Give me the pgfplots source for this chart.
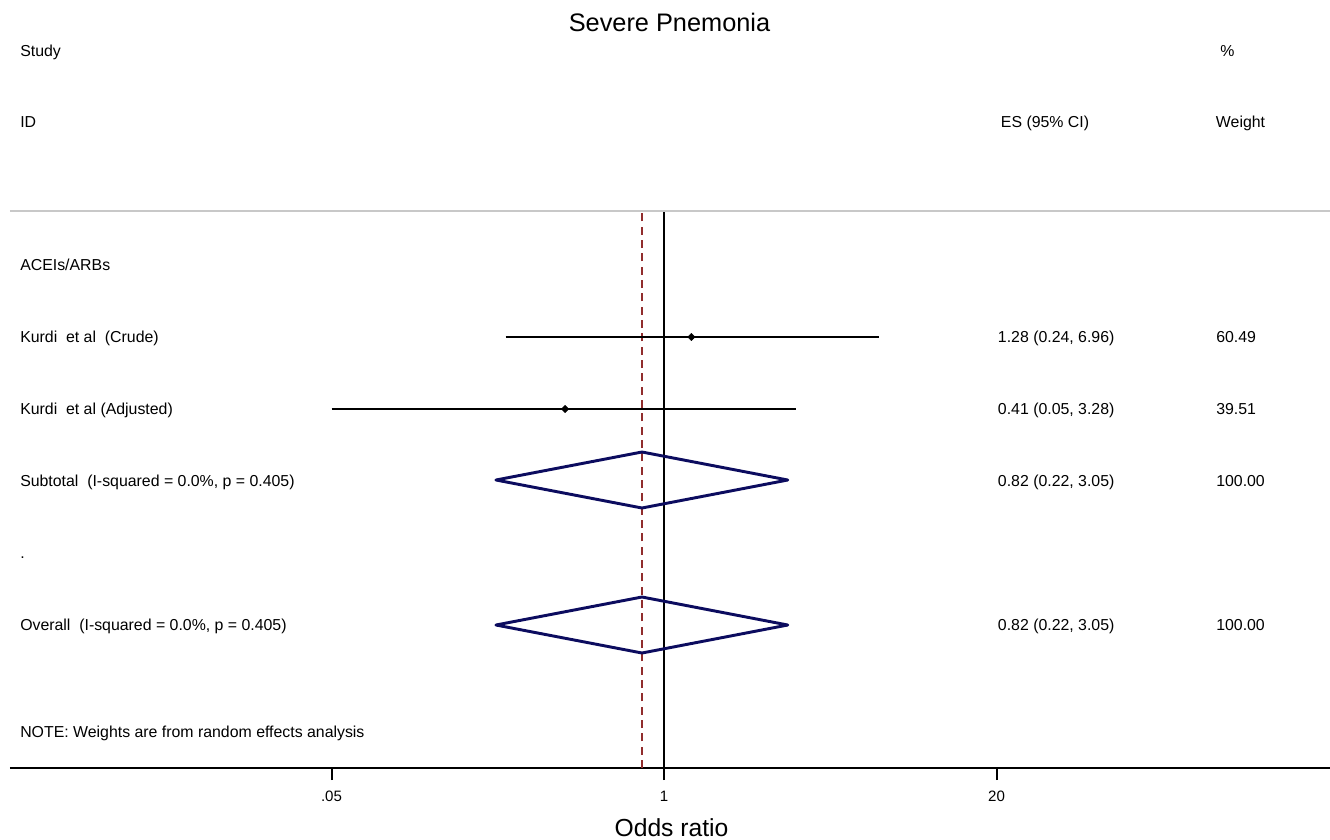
\documentclass[border=0pt]{standalone}
\usepackage{pgfplots}
\pgfplotsset{compat=1.18}
\usepackage{fontspec}
\setmainfont{Liberation Sans}
\definecolor{navyd}{RGB}{12,12,95}
\definecolor{dashred}{RGB}{145,45,45}
\definecolor{sepgray}{RGB}{200,200,200}
\newcommand{\bodyfont}{\fontsize{11.9}{14}\selectfont}
\begin{document}
\begin{tikzpicture}
\begin{axis}[
  at={(7.5pt,-576pt)}, anchor=south west,
  scale only axis, width=990pt, height=417pt,
  xmode=log, xmin=0.00276, xmax=403.6, ymin=-768, ymax=-212,
  axis y line=none, axis x line*=bottom,
  x axis line style={-, line width=1.5pt, black},
  xtick={0.05,1,20}, xticklabels={\textrm{.05},\textrm{1},\textrm{20}},
  minor xtick={},
  xtick align=outside, major tick length=9pt,
  xtick style={line width=1.5pt, black},
  xticklabel style={font=\fontsize{11.3}{13}\selectfont, inner sep=0pt, yshift=-8pt},
  clip=false,
]
% separator
\addplot[sepgray, line width=1.5pt] coordinates {(0.00276,-211) (403.6,-211)};
% reference lines
\addplot[black, line width=1.3pt] coordinates {(1,-768) (1,-212)};
\addplot[dashred, line width=1.3pt, dash pattern=on 6pt off 4pt] coordinates {(0.82,-768) (0.82,-212)};
% study CIs
\addplot[black, line width=1.4pt] coordinates {(0.24,-337) (6.96,-337)};
\addplot[black, line width=1.4pt] coordinates {(0.05,-409) (3.28,-409)};
\addplot[only marks, mark=square*, mark size=1.9pt, mark options={rotate=45, fill=black, draw=black}] coordinates {(1.28,-337) (0.41,-409)};
% pooled diamonds
\addplot[navyd, line width=2.2pt, line join=round] coordinates {(0.22,-480) (0.82,-452) (3.05,-480) (0.82,-508) (0.22,-480) (0.82,-452)};
\addplot[navyd, line width=2.2pt, line join=round] coordinates {(0.22,-625) (0.82,-597) (3.05,-625) (0.82,-653) (0.22,-625) (0.82,-597)};
\end{axis}
\begin{scope}[x=0.75pt, y=-0.75pt, every node/.style={inner sep=0pt, font=\bodyfont, anchor=base west}]
\node[anchor=base, font=\fontsize{19}{22}\selectfont] at (669.5,31.5) {Severe Pnemonia};
\node at (20,56) {Study};
\node at (1220,56) {\%};
\node at (20,127.7) {ID};
\node at (1000.7,127.7) {ES (95\% CI)};
\node at (1215.7,127.7) {Weight};
\node at (20,270.5) {ACEIs/ARBs};
\node at (20,342.3) {Kurdi\ \ et al\ \ (Crude)};
\node at (997.7,342.3) {1.28 (0.24, 6.96)};
\node at (1216,342.3) {60.49};
\node at (20,414.5) {Kurdi\ \ et al (Adjusted)};
\node at (997.7,414.5) {0.41 (0.05, 3.28)};
\node at (1216,414.5) {39.51};
\node at (20,486) {Subtotal\ \ (I-squared = 0.0\%, p = 0.405)};
\node at (997.7,486) {0.82 (0.22, 3.05)};
\node at (1216,486) {100.00};
\node at (20,558.5) {.};
\node at (20,630.5) {Overall\ \ (I-squared = 0.0\%, p = 0.405)};
\node at (997.7,630.5) {0.82 (0.22, 3.05)};
\node at (1216,630.5) {100.00};
\node at (20,737.5) {NOTE: Weights are from random effects analysis};
\node[anchor=base, font=\fontsize{18.5}{21}\selectfont] at (671.5,836) {Odds ratio};
\pgfresetboundingbox
\path (0,0) rectangle (1330,839);
\end{scope}
\end{tikzpicture}
\end{document}
